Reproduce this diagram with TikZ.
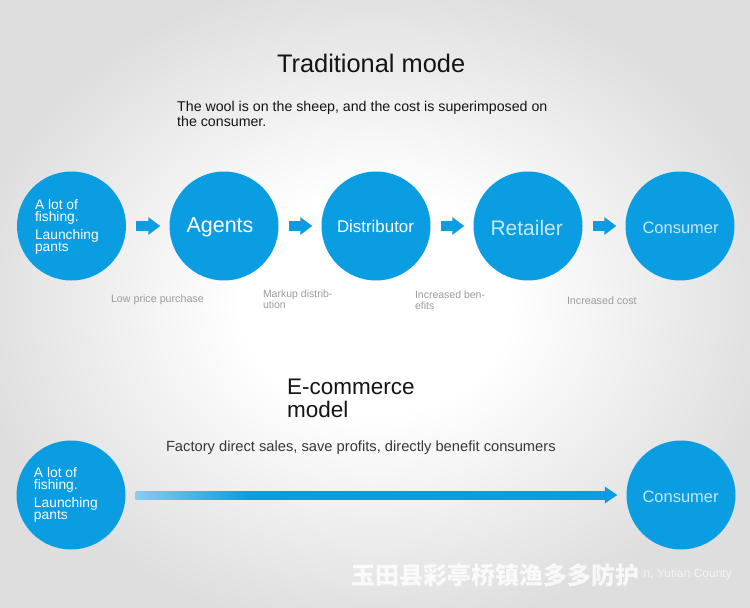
\documentclass[tikz,border=0pt]{standalone}
\usepackage{fontspec}
\setmainfont{Liberation Sans}
\newfontfamily\cjkfont{Noto Sans CJK SC}
\usetikzlibrary{calc,arrows.meta}
\definecolor{cblue}{HTML}{0A9DE2}
\definecolor{lblue}{HTML}{88CCEF}
\definecolor{bggray}{HTML}{DEDEDE}
\definecolor{lbltext}{HTML}{9C9C9C}
\definecolor{pale}{HTML}{C4E8FA}
\definecolor{ink}{HTML}{141414}
\newcommand\tightls{\lineskiplimit-20pt\lineskip0pt\relax}
\pgfdeclareradialshading{bgshade}{\pgfpoint{0bp}{0bp}}{color(0bp)=(white); color(9bp)=(white); color(27bp)=(bggray); color(50bp)=(bggray)}
\pgfdeclarehorizontalshading{shaftshade}{100bp}{color(0bp)=(lblue); color(25bp)=(lblue); color(37bp)=(cblue); color(100bp)=(cblue)}
\begin{document}
\begin{tikzpicture}[x=1pt,y=-1pt,
  circ/.style={circle, fill=cblue, draw=none, minimum size=109pt, inner sep=0pt},
  line/.style={anchor=base west, inner sep=0pt, outer sep=0pt},
  intext/.style={anchor=north west, inner sep=0pt, outer sep=0pt, align=left, text=white,
    font={\fontsize{13.8}{12.3}\selectfont\tightls}},
  lbl/.style={line, text=lbltext, font=\fontsize{10.7}{11}\selectfont},
  lbltwo/.style={anchor=north west, inner sep=0pt, outer sep=0pt, align=left, text=lbltext,
    font={\fontsize{10.5}{11}\selectfont\tightls}},
  blockarrow/.style={draw=cblue, line width=10pt, -{Triangle[length=12pt,width=17pt]}}
]
\useasboundingbox (0,0) rectangle (750,608);
\shade[shading=bgshade] (0,0) rectangle (750,608);

% titles
\node[line, text=ink, font=\fontsize{25.4}{28}\selectfont] (title) at (277,72) {Traditional mode};
\node[anchor=north west, inner sep=0pt, align=left, text=ink, font={\fontsize{14.2}{14.3}\selectfont\tightls}] (sub) at (177,101.5) {The wool is on the sheep, and the cost is superimposed on\\the consumer.};

% top row circles
\node[circ] (c1) at (71.5,226) {};
\node[circ] (c2) at (224,226) {};
\node[circ] (c3) at (376,226) {};
\node[circ] (c4) at (528,226) {};
\node[circ] (c5) at (680,226) {};

\node[intext] (c1a) at (35,199) {A lot of\\fishing.};
\node[intext] (c1b) at (35,229.3) {Launching\\pants};
\node[line, text=white, font=\fontsize{21.5}{24}\selectfont] (c2t) at (186.5,232) {Agents};
\node[line, text=white, font=\fontsize{16.9}{20}\selectfont] (c3t) at (337,232) {Distributor};
\node[line, text=pale, font=\fontsize{21}{24}\selectfont] (c4t) at (490.5,235.5) {Retailer};
\node[line, text=pale, font=\fontsize{16.5}{20}\selectfont] (c5t) at (642.5,233) {Consumer};

\draw[blockarrow] ([xshift=10pt]c1.east) -- ([xshift=-9pt]c2.west);
\draw[blockarrow] ([xshift=10pt]c2.east) -- ([xshift=-9pt]c3.west);
\draw[blockarrow] ([xshift=10pt]c3.east) -- ([xshift=-9pt]c4.west);
\draw[blockarrow] ([xshift=10pt]c4.east) -- ([xshift=-9pt]c5.west);

% labels under arrows
\node[lbl] (l1) at (111,302) {Low price purchase};
\node[lbltwo] (l2) at (263,289.7) {Markup distrib-\\ution};
\node[lbltwo] (l3) at (415,290.7) {Increased ben-\\efits};
\node[lbl] (l4) at (567,304) {Increased cost};

% e-commerce
\node[anchor=north west, inner sep=0pt, align=left, text=ink, font={\fontsize{22.5}{23}\selectfont\tightls}] (ecom) at (287,378.5) {E-commerce\\model};
\node[line, text=black!78, font=\fontsize{14.7}{16}\selectfont] (fac) at (166,451.5) {Factory direct sales, save profits, directly benefit consumers};

% bottom row
\node[circ] (b1) at (71,495) {};
\node[circ] (b2) at (681,495) {};
\node[intext] (b1a) at (34,467) {A lot of\\fishing.};
\node[intext] (b1b) at (34,497.3) {Launching\\pants};
\node[line, text=pale, font=\fontsize{16.5}{20}\selectfont] (b2t) at (642.5,502) {Consumer};

\coordinate (ls) at ([xshift=10pt]b1.east);
\coordinate (le) at ([xshift=-9pt]b2.west);
\shade[shading=shaftshade] ($(ls)+(0,-4)$) rectangle ($(le)+(-12,4)$);
\fill[cblue] ($(le)+(-12.5,-8.5)$) -- (le) -- ($(le)+(-12.5,8.5)$) -- cycle;

% watermark
\node[anchor=west, inner sep=0pt, text=white, opacity=0.8, font=\cjkfont\bfseries\fontsize{24}{26}\selectfont] (wm) at (351,575) {玉田县彩亭桥镇渔多多防护};
\node[anchor=base east, inner sep=0pt, text=white, opacity=0.7, font=\fontsize{12}{14}\selectfont] (wm2) at (732,577) {n, Yutian County};
\end{tikzpicture}
\end{document}
